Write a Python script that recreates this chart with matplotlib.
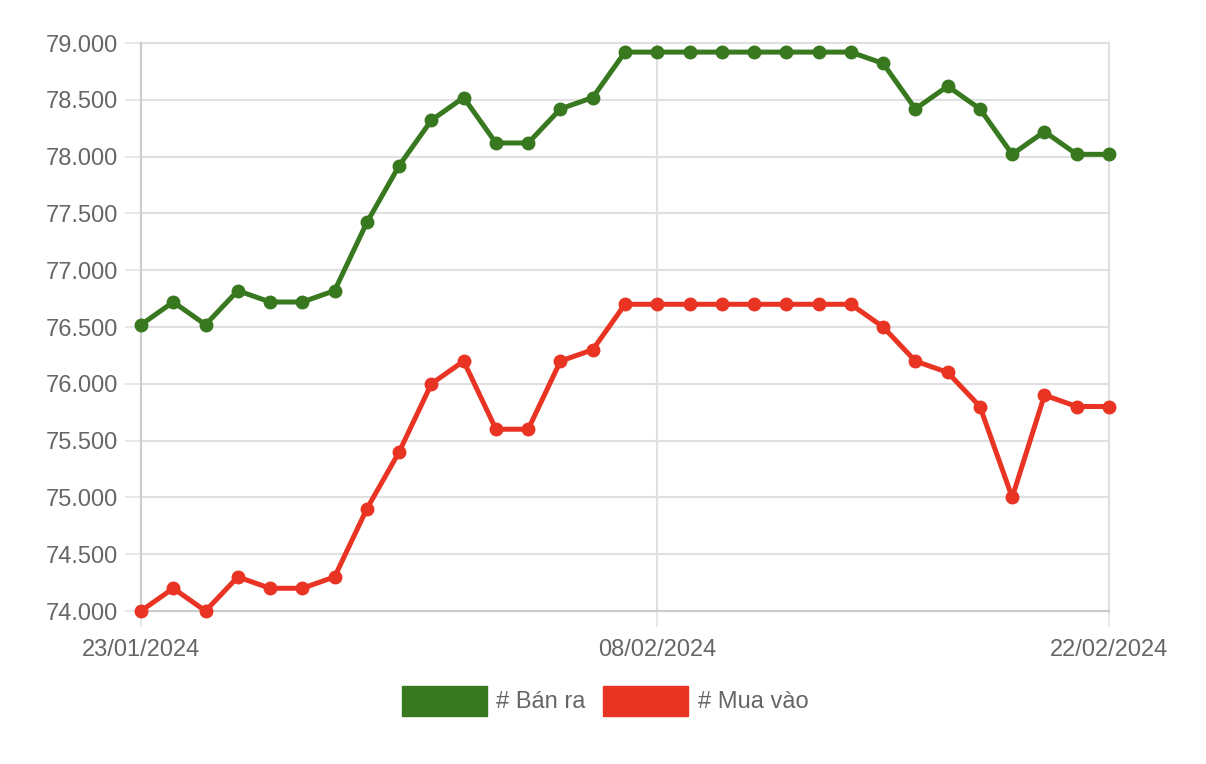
import matplotlib
matplotlib.use("Agg")
import matplotlib.pyplot as plt
from matplotlib.patches import Rectangle
from matplotlib.ticker import FuncFormatter

plt.rcParams['font.family'] = ['Liberation Sans', 'DejaVu Sans']

# 23/01/2024 .. 22/02/2024, one point per day
dates = ["23/01/2024", "24/01/2024", "25/01/2024", "26/01/2024", "27/01/2024",
         "28/01/2024", "29/01/2024", "30/01/2024", "31/01/2024", "01/02/2024",
         "02/02/2024", "03/02/2024", "04/02/2024", "05/02/2024", "06/02/2024",
         "07/02/2024", "08/02/2024", "09/02/2024", "10/02/2024", "11/02/2024",
         "12/02/2024", "13/02/2024", "14/02/2024", "15/02/2024", "16/02/2024",
         "17/02/2024", "18/02/2024", "19/02/2024", "20/02/2024", "21/02/2024",
         "22/02/2024"]

ban_ra = [76520, 76720, 76520, 76820, 76720, 76720, 76820, 77420, 77920, 78320,
          78520, 78120, 78120, 78420, 78520, 78920, 78920, 78920, 78920, 78920,
          78920, 78920, 78920, 78820, 78420, 78620, 78420, 78020, 78220, 78020,
          78020]

mua_vao = [74000, 74200, 74000, 74300, 74200, 74200, 74300, 74900, 75400, 76000,
           76200, 75600, 75600, 76200, 76300, 76700, 76700, 76700, 76700, 76700,
           76700, 76700, 76700, 76500, 76200, 76100, 75800, 75000, 75900, 75800,
           75800]

tick_idx = [0, 16, 30]
labels = ["# Bán ra", "# Mua vào"]
GREEN = "#38781f"
RED = "#e93323"
GRID = "#e0e0e0"
TEXT = "#666666"

fig = plt.figure(figsize=(12.06, 7.64), dpi=100)
W, H = 1206, 764
ax = fig.add_axes([141 / W, 153 / H, (1109 - 141) / W, (611 - 43) / H])

x = list(range(len(dates)))
for series, color in [(ban_ra, GREEN), (mua_vao, RED)]:
    ax.plot(x, series, color=color, lw=3.6, marker="o", ms=9,
            solid_joinstyle="round", clip_on=False, zorder=3)

ax.set_xlim(0, len(dates) - 1)
ax.set_ylim(74000, 79000)
ax.set_yticks(range(74000, 79001, 500))
ax.yaxis.set_major_formatter(FuncFormatter(lambda v, p: f"{v:,.0f}".replace(",", ".")))
ax.set_xticks(tick_idx)
ax.set_xticklabels([dates[i] for i in tick_idx])

ax.grid(True, color=GRID, lw=1.5)
ax.set_axisbelow(True)
for line in ax.get_xgridlines() + ax.get_ygridlines():
    line.set_clip_on(False)
for s in ["top", "right"]:
    ax.spines[s].set_visible(False)
for s in ["left", "bottom"]:
    ax.spines[s].set_color("#cccccc")
    ax.spines[s].set_linewidth(1.5)
ax.tick_params(axis="both", length=11.5, width=1.1, color=GRID,
               labelsize=17, labelcolor=TEXT)
ax.tick_params(axis="y", pad=5)
ax.tick_params(axis="x", pad=9)

# legend drawn by hand, centred under the plot
legend_items = [(402, 496, GREEN, labels[0]), (603, 698, RED, labels[1])]
for bx, tx, color, lab in legend_items:
    fig.patches.append(Rectangle((bx / W, (764 - 716) / H), 85 / W, 30 / H,
                                 transform=fig.transFigure, color=color))
    fig.text(tx / W, (764 - 702) / H, lab, fontsize=17, color=TEXT,
             va="center", ha="left")

fig.savefig("out.png", dpi=100, facecolor="white")
